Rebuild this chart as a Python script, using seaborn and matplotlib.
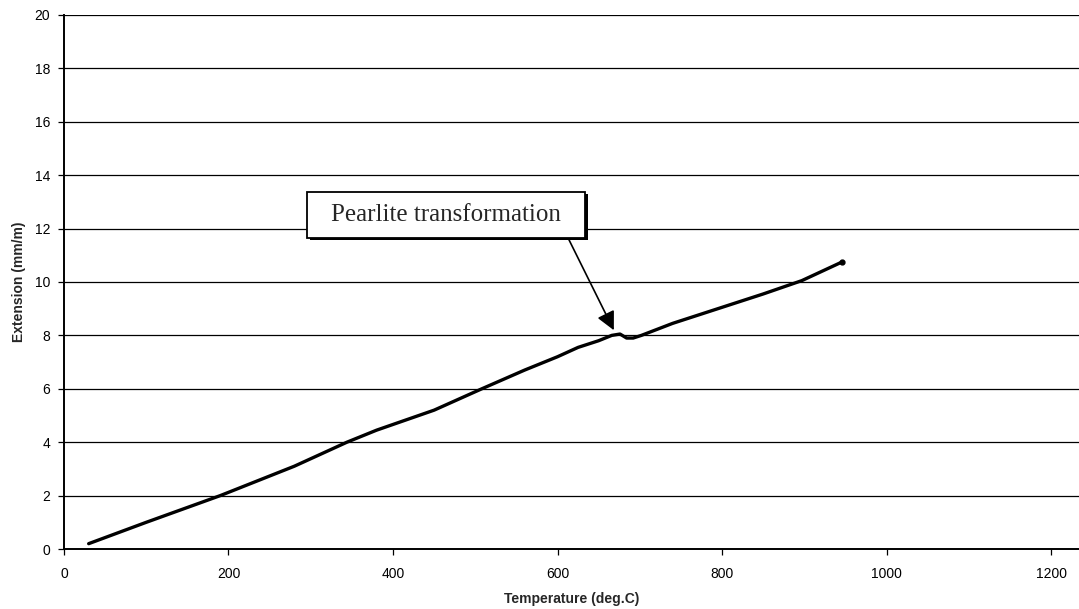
import seaborn as sns
import matplotlib.pyplot as plt
import matplotlib.patches as mpatches
import pandas as pd

# dilatometer curve
temperature = [30, 100, 190, 280, 344, 380, 450, 508, 560, 600, 625, 650, 666, 676, 684, 692, 702, 740, 800, 850, 897, 946]
extension = [0.2, 1.0, 2.0, 3.1, 4.0, 4.45, 5.2, 6.0, 6.7, 7.2, 7.55, 7.8, 8.0, 8.05, 7.9, 7.9, 8.0, 8.45, 9.05, 9.55, 10.05, 10.75]
x_ticks = [0, 200, 400, 600, 800, 1000, 1200]
y_ticks = [0, 2, 4, 6, 8, 10, 12, 14, 16, 18, 20]

df = pd.DataFrame({'Temperature': temperature, 'Extension': extension})

sns.set_style('white')
plt.rcParams['font.family'] = ['Liberation Sans', 'DejaVu Sans']

fig = plt.figure(figsize=(10.79, 6.09), dpi=100)
ax = fig.add_axes([0.0593, 0.0985, 0.9407, 0.877])

# horizontal grid lines like the Excel chart
for y in y_ticks[1:]:
    ax.axhline(y, color='black', lw=0.9, zorder=1)

sns.lineplot(data=df, x='Temperature', y='Extension', sort=False, color='black',
             lw=2.4, ax=ax, zorder=3)
ax.plot(temperature[-1], extension[-1], 'o', color='black', ms=3.5, zorder=4)

ax.set_xlim(0, 1234)
ax.set_ylim(0, 20)
ax.set_xticks(x_ticks)
ax.set_yticks(y_ticks)
ax.tick_params(axis='both', labelsize=10, length=4, width=0.9, color='black',
               labelcolor='black', direction='out', bottom=True, left=True)
ax.tick_params(axis='x', pad=9)
ax.tick_params(axis='y', pad=6)

for side in ['top', 'right']:
    ax.spines[side].set_visible(False)
for side in ['left', 'bottom']:
    ax.spines[side].set_color('black')
    ax.spines[side].set_linewidth(1.4)

ax.set_xlabel('Temperature (deg.C)', fontsize=10, fontweight='bold', labelpad=8)
ax.set_ylabel('Extension (mm/m)', fontsize=10, fontweight='bold', labelpad=6)

# callout box with arrow
ax.annotate('', xy=(670, 8.1), xytext=(612, 11.7),
            arrowprops=dict(arrowstyle='-|>', color='black', lw=1.2,
                            mutation_scale=28), zorder=5)
ax.add_patch(mpatches.Rectangle((299, 11.57), 338, 1.72, fc='black', ec='none', zorder=5))
ax.add_patch(mpatches.Rectangle((295, 11.65), 338, 1.72, fc='white', ec='black',
                                lw=1.3, zorder=6))
ax.text(464, 12.5, 'Pearlite transformation', fontsize=18,
        family=['Liberation Serif', 'DejaVu Serif'], ha='center', va='center',
        zorder=7)

plt.savefig('out.png', dpi=100)
